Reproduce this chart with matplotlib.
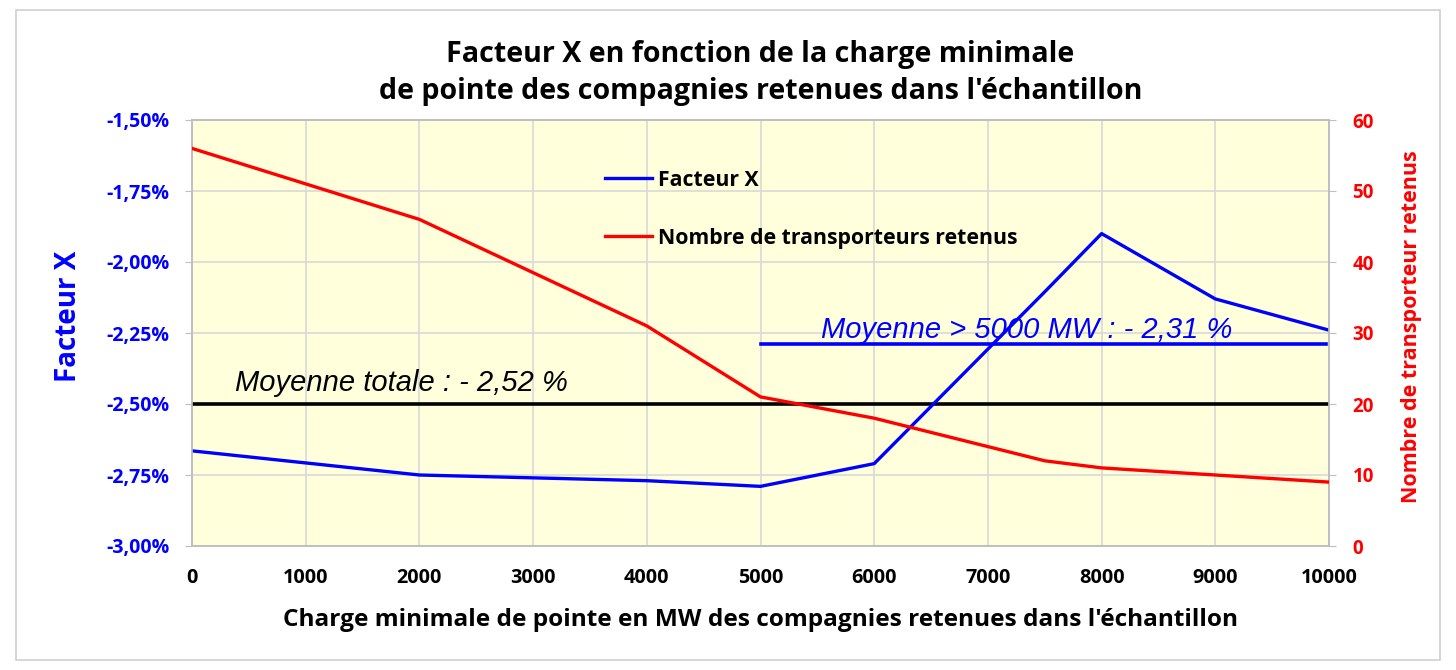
import matplotlib
matplotlib.use("Agg")
import matplotlib.pyplot as plt
from matplotlib.patches import Rectangle
from matplotlib.ticker import FuncFormatter

# Data
charge_mw = [0, 2000, 4000, 5000, 6000, 7500, 8000, 9000, 10000]
facteur_x = [-2.665, -2.75, -2.77, -2.79, -2.71, -2.105, -1.90, -2.13, -2.24]
nb_transporteurs = [56, 46, 31, 21, 18, 12, 11, 10, 9]
moyenne_totale = -2.50
moyenne_totale_x = [0, 10000]
moyenne_haute = -2.29
moyenne_haute_x = [5000, 9970]
x_ticks = list(range(0, 10001, 1000))
y_left_ticks = [-3.00, -2.75, -2.50, -2.25, -2.00, -1.75, -1.50]
y_right_ticks = [0, 10, 20, 30, 40, 50, 60]

title = "Facteur X en fonction de la charge minimale\nde pointe des compagnies retenues dans l'échantillon"
xlabel = "Charge minimale de pointe en MW des compagnies retenues dans l'échantillon"
ylabel_left = "Facteur X"
ylabel_right = "Nombre de transporteur retenus"
label_fx = "Facteur X"
label_nb = "Nombre de transporteurs retenus"
txt_totale = "Moyenne totale : - 2,52 %"
txt_haute = "Moyenne > 5000 MW : - 2,31 %"

plt.rcParams['font.family'] = ['Open Sans', 'DejaVu Sans']

fig = plt.figure(figsize=(14.56, 6.70), dpi=100)
fig.patch.set_facecolor("white")
fig.patches.append(Rectangle((16/1456, 10/670), (1440-16)/1456, (660-10)/670,
                             transform=fig.transFigure, fill=False,
                             edgecolor="#D0D0D0", linewidth=1.2))

ax = fig.add_axes([192/1456, 1-546/670, (1329-192)/1456, (546-120)/670])
ax.set_facecolor("#FFFFDC")
ax2 = ax.twinx()

grid_c = "#D9D9D9"
ax.set_xlim(0, 10000)
ax.set_ylim(-3.0, -1.5)
ax2.set_ylim(0, 60)
ax.set_xticks(x_ticks)
ax.set_yticks(y_left_ticks)
ax2.set_yticks(y_right_ticks)
ax.grid(True, color=grid_c, linewidth=1.2)
ax.set_axisbelow(True)

for a in (ax, ax2):
    for s in a.spines.values():
        s.set_color("#BFBFBF")
        s.set_linewidth(1.2)

ax.yaxis.set_major_formatter(FuncFormatter(lambda v, p: f"{v:.2f}%".replace(".", ",")))
ax.tick_params(axis="y", colors="#BFBFBF", labelcolor="#0000FF", labelsize=14, length=5, pad=11)
ax.tick_params(axis="x", colors="#BFBFBF", labelcolor="black", labelsize=14.3, length=0, pad=16)
ax2.tick_params(axis="y", colors="#BFBFBF", labelcolor="#FF0000", labelsize=13.5, length=5, pad=12)
for lab in ax.get_yticklabels() + ax.get_xticklabels() + ax2.get_yticklabels():
    lab.set_fontweight("bold")

# Lines
ax.plot(moyenne_totale_x, [moyenne_totale]*2, color="black", linewidth=2.6, zorder=3)
ax.plot(moyenne_haute_x, [moyenne_haute]*2, color="#0000FF", linewidth=2.6, zorder=3)
l1, = ax.plot(charge_mw, facteur_x, color="#0000FF", linewidth=2.4, label=label_fx, zorder=4)
l2, = ax2.plot(charge_mw, nb_transporteurs, color="#FF0000", linewidth=2.4, label=label_nb, zorder=4)

ax.text(378, -2.455, txt_totale, fontsize=21, style="italic", color="black",
        family="Liberation Sans", ha="left", va="baseline")
ax.text(7345, -2.268, txt_haute, fontsize=21, style="italic", color="#0000FF",
        family="Liberation Sans", ha="center", va="baseline")

leg = ax2.legend(handles=[l1, l2], loc="upper left", bbox_to_anchor=(0.3465, 0.928),
                 frameon=False, fontsize=15.3, handlelength=2.2, handletextpad=0.28,
                 labelspacing=1.74)
for t in leg.get_texts():
    t.set_fontweight("bold")

ax.set_title(title, fontsize=20.6, fontweight="bold", pad=15, linespacing=1.38)
ax.set_xlabel(xlabel, fontsize=17.6, fontweight="bold", labelpad=14)
ax.set_ylabel(ylabel_left, fontsize=20, fontweight="bold", color="#0000FF")
ax.yaxis.set_label_coords(-0.0955, 0.538)
ax2.set_ylabel(ylabel_right, fontsize=15.5, fontweight="bold", color="#FF0000")
ax2.yaxis.set_label_coords(1.063, 0.516)

fig.savefig("out.png", dpi=100)
